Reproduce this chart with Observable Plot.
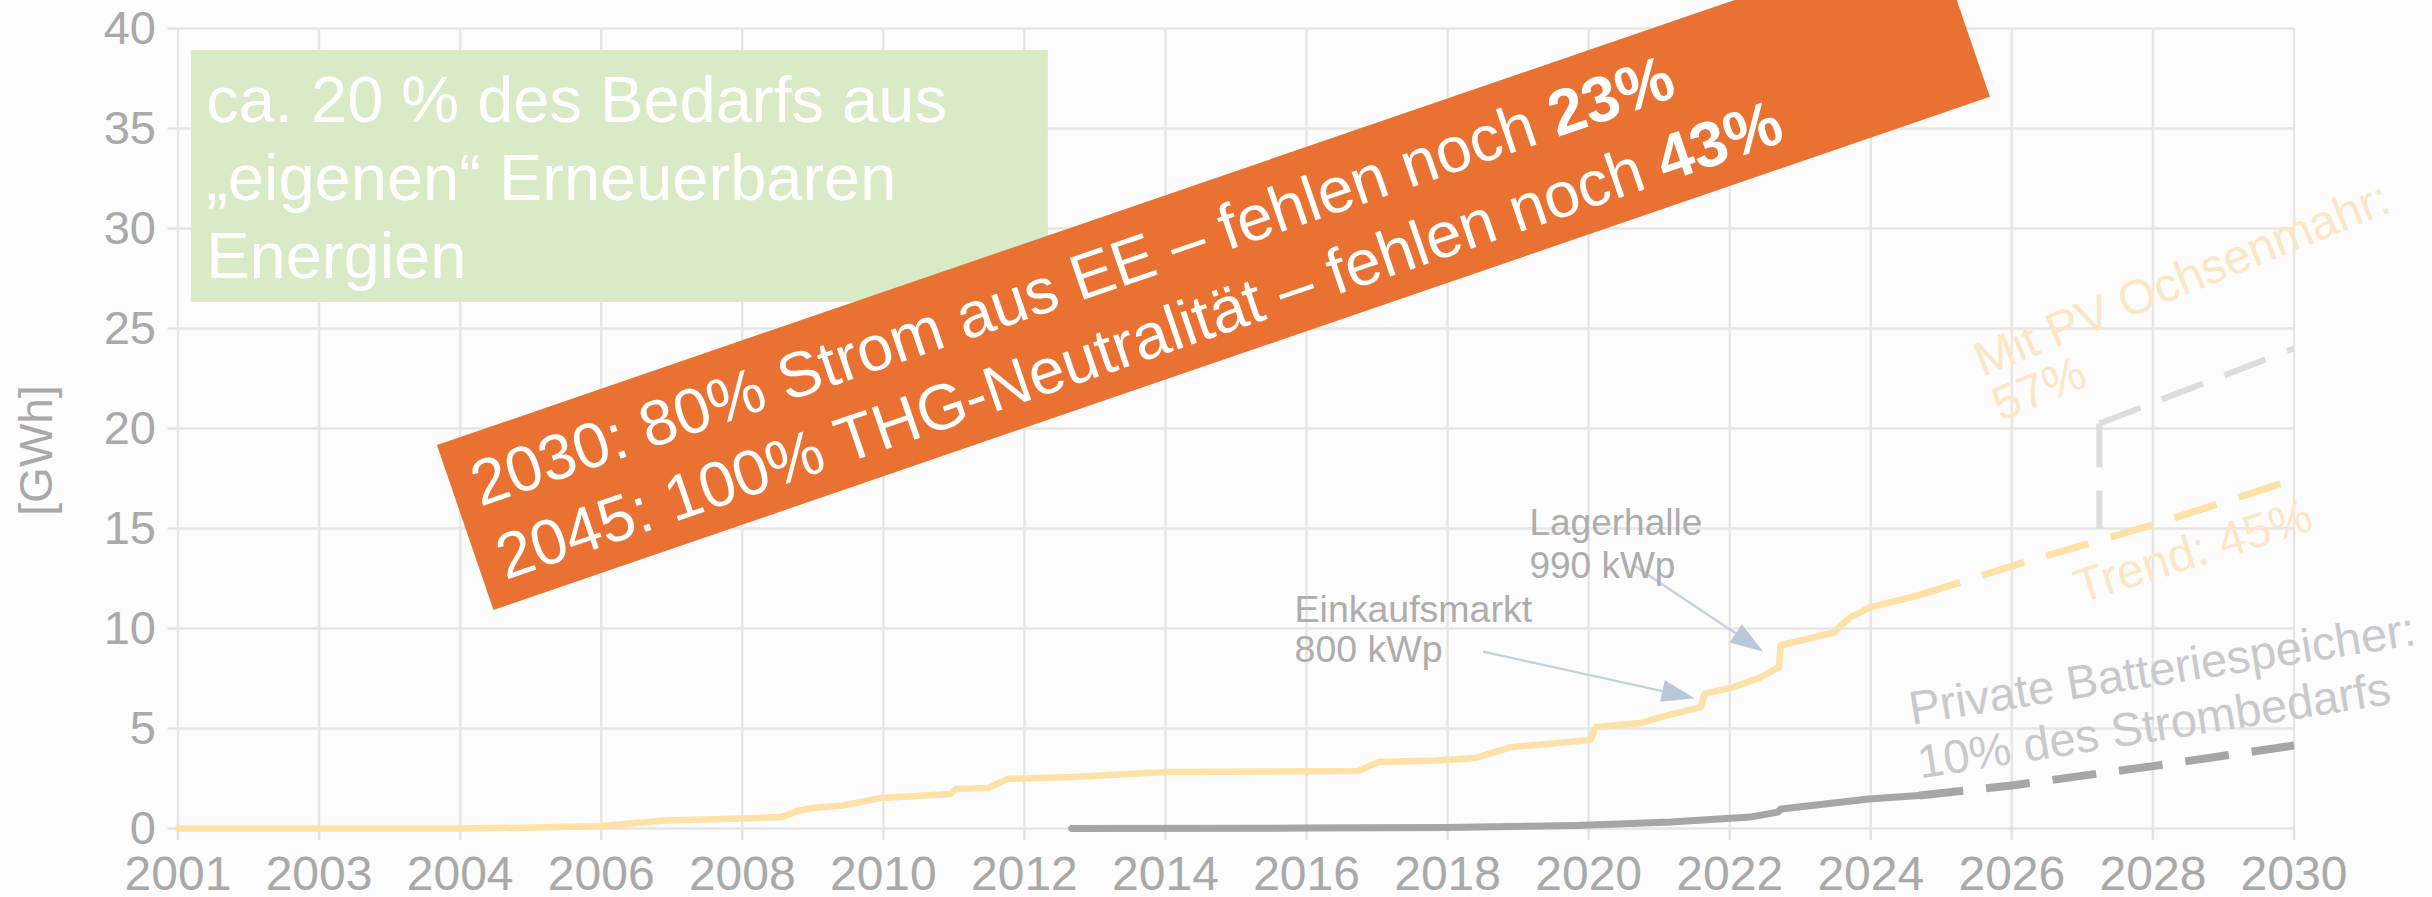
<!DOCTYPE html>
<html>
<head>
<meta charset="utf-8">
<script src="https://cdn.jsdelivr.net/npm/d3@7"></script>
<script src="https://cdn.jsdelivr.net/npm/@observablehq/plot@0.6"></script>
<style>
  html, body { margin: 0; padding: 0; background: #fcfcfc; overflow: hidden; }
  #chart { width: 2432px; height: 897px; overflow: hidden; }
  #chart svg { display: block; }
</style>
</head>
<body>
<div id="chart"></div>
<script>
// ---------- tick labels ----------
const xTickYears = [2001, 2003, 2004, 2006, 2008, 2010, 2012, 2014, 2016, 2018, 2020, 2022, 2024, 2026, 2028, 2030];
const yTicks = [0, 5, 10, 15, 20, 25, 30, 35, 40];

// ---------- series: cumulative PV generation (GWh) ----------
const pvYears = [2001, 2004, 2005.1, 2006.0, 2006.9, 2008.0, 2008.56, 2008.78, 2008.99, 2009.43, 2009.97,
  2010.95, 2011.03, 2011.49, 2011.76, 2012.68, 2014.01, 2016.73, 2017.02, 2017.85, 2018.40, 2018.90,
  2019.96, 2020.03, 2020.10, 2020.74, 2020.98, 2021.59, 2021.64, 2022.06, 2022.44, 2022.70, 2022.72,
  2023.47, 2023.71, 2024.0, 2024.67];
const pvGWh = [0, 0, 0.05, 0.12, 0.4, 0.5, 0.57, 0.87, 1.03, 1.15, 1.53,
  1.73, 1.98, 2.03, 2.48, 2.57, 2.82, 2.87, 3.32, 3.4, 3.53, 4.07,
  4.4, 4.45, 5.07, 5.27, 5.53, 6.07, 6.73, 7.07, 7.57, 8.07, 9.15,
  9.8, 10.57, 11.07, 11.65];

// trend projection (dashed)
const trendYears = [2024.67, 2026.12, 2028.04, 2030];
const trendGWh = [11.65, 13.25, 15.23, 17.45];

// projection "Mit PV Ochsenmahr" (dashed, light grey): vertical step and rise
const ochsenStepYears = [2027.24, 2027.24];
const ochsenStepGWh = [20.25, 15.0];
const ochsenRiseYears = [2027.24, 2030];
const ochsenRiseGWh = [20.25, 24.0];

// private battery storage
const batteryYears = [2012.67, 2016.0, 2018.0, 2019.84, 2021.17, 2022.29, 2022.68, 2022.73, 2023.97, 2024.69];
const batteryGWh = [0, 0.02, 0.05, 0.15, 0.32, 0.57, 0.82, 0.98, 1.48, 1.65];
const batteryProjYears = [2024.69, 2026, 2028, 2030];
const batteryProjGWh = [1.65, 2.15, 3.12, 4.15];

// ---------- annotation texts ----------
const boxText = "ca. 20 % des Bedarfs aus\n„eigenen“ Erneuerbaren\nEnergien";
const bannerLines = [
  {text: "2030: 80% Strom aus EE – fehlen noch ", bold: "23%"},
  {text: "2045: 100% THG-Neutralität – fehlen noch ", bold: "43%"}
];
const labelLager = "Lagerhalle\n990 kWp";
const labelEinkauf = "Einkaufsmarkt\n800 kWp";
const labelOchsen = "Mit PV Ochsenmahr:\n57%";
const labelTrend = "Trend: 45%";
const labelBattery = "Private Batteriespeicher:\n10% des Strombedarfs";

// ---------- layout (annotation anchors in data units) ----------
const W = 2432, H = 897;
const M = {left: 177.5, right: 138.5, top: 28, bottom: 69};
const FONT = "'Liberation Sans', Arial, Helvetica, sans-serif";

// axis position (evenly spaced ticks) from year
const pos = d3.scaleLinear(xTickYears, d3.range(xTickYears.length));
const toRows = (xs, ys) => xs.map((t, i) => ({x: pos(t), y: ys[i]}));

const pv = toRows(pvYears, pvGWh);
const trend = toRows(trendYears, trendGWh);
const ochsenStep = toRows(ochsenStepYears, ochsenStepGWh);
const ochsenRise = toRows(ochsenRiseYears, ochsenRiseGWh);
const battery = toRows(batteryYears, batteryGWh);
const batteryProj = toRows(batteryProjYears, batteryProjGWh);

const box = [{x1: pos(2001.19), x2: pos(2012.34), y1: 26.3, y2: 38.9}];
const banner = {year: 2004.48, gwh: 10.9, angle: -18.93, length: 1582, height: 174.4, padX: 21, baselines: [-102, -24.5], fontSize: 64};
const arrows = [
  {fromYear: 2020.64, fromGWh: 13.15, toYear: 2022.48, toGWh: 8.82},
  {fromYear: 2018.51, fromGWh: 8.82, toYear: 2021.51, toGWh: 6.49}
];

function bannerMark(index, scales) {
  const x0 = scales.x(pos(banner.year)), y0 = scales.y(banner.gwh);
  const g = d3.create("svg:g")
    .attr("transform", `translate(${x0},${y0}) rotate(${banner.angle})`)
    .attr("text-anchor", "start");
  g.append("rect")
    .attr("x", 0).attr("y", -banner.height)
    .attr("width", banner.length).attr("height", banner.height)
    .attr("fill", "#e97232");
  bannerLines.forEach((ln, i) => {
    const t = g.append("text")
      .attr("x", banner.padX).attr("y", banner.baselines[i])
      .attr("text-anchor", "start")
      .attr("fill", "#ffffff")
      .attr("font-size", banner.fontSize)
      .attr("font-family", FONT)
      .style("white-space", "pre");
    t.append("tspan").text(ln.text);
    t.append("tspan").attr("font-weight", "bold").text(ln.bold);
  });
  return g.node();
}

function arrowMark(index, scales) {
  const g = d3.create("svg:g");
  for (const a of arrows) {
    const x1 = scales.x(pos(a.fromYear)), y1 = scales.y(a.fromGWh);
    const x2 = scales.x(pos(a.toYear)), y2 = scales.y(a.toGWh);
    const ang = Math.atan2(y2 - y1, x2 - x1);
    const L = 33, hw = 11;
    const bx = x2 - L * Math.cos(ang), by = y2 - L * Math.sin(ang);
    g.append("line")
      .attr("x1", x1).attr("y1", y1).attr("x2", bx).attr("y2", by)
      .attr("stroke", "#c4d0e0").attr("stroke-width", 2.2);
    g.append("path")
      .attr("d", `M${x2},${y2}L${bx - hw * Math.sin(ang)},${by + hw * Math.cos(ang)}L${bx + hw * Math.sin(ang)},${by - hw * Math.cos(ang)}Z`)
      .attr("fill", "#b8c7da");
  }
  return g.node();
}

const gridStyle = {stroke: "#e6e6e6", strokeOpacity: 1, strokeWidth: 2.5};
const dash = "44,23";

const chart = Plot.plot({
  width: W, height: H,
  marginLeft: M.left, marginRight: M.right, marginTop: M.top, marginBottom: M.bottom,
  style: {background: "#fcfcfc", fontFamily: FONT, overflow: "visible"},
  x: {type: "linear", domain: [0, xTickYears.length - 1]},
  y: {type: "linear", domain: [0, 40]},
  marks: [
    Plot.gridX({ticks: d3.range(xTickYears.length), ...gridStyle}),
    Plot.gridY({ticks: yTicks, ...gridStyle}),
    Plot.axisX({ticks: d3.range(xTickYears.length), tickFormat: i => String(xTickYears[i]),
      tickSize: 12, tickPadding: 15, stroke: "#e3e3e3", strokeWidth: 2.5, fill: "#a9a9a9",
      fontSize: 48, label: null}),
    Plot.axisY({ticks: yTicks, tickFormat: d => String(d), tickSize: 10, tickPadding: 12, stroke: "#e3e3e3", strokeWidth: 2.5,
      fill: "#a9a9a9", fontSize: 47, label: null}),
    Plot.text(["[GWh]"], {frameAnchor: "left", dx: -140.5, dy: 22, rotate: -90, fontSize: 46,
      fill: "#a9a9a9", textAnchor: "middle"}),

    // green info box
    Plot.rect(box, {x1: "x1", x2: "x2", y1: "y1", y2: "y2", fill: "#d8eac6"}),
    Plot.text([boxText], {x: pos(2001.40), y: 27.55, textAnchor: "start", lineAnchor: "bottom",
      fontSize: 65, lineHeight: 1.2, fill: "#ffffff"}),

    // orange banner
    bannerMark,

    // projections
    Plot.line(ochsenStep, {x: "x", y: "y", stroke: "#dddddd", strokeWidth: 6, strokeDasharray: dash, strokeLinecap: "butt"}),
    Plot.line(ochsenRise, {x: "x", y: "y", stroke: "#dddddd", strokeWidth: 6, strokeDasharray: dash, strokeLinecap: "butt"}),
    Plot.line(trend, {x: "x", y: "y", stroke: "#fde1a6", strokeWidth: 7, strokeDasharray: dash, strokeLinecap: "butt"}),
    Plot.line(batteryProj, {x: "x", y: "y", stroke: "#a6a6a6", strokeWidth: 8, strokeDasharray: dash, strokeLinecap: "butt"}),

    // measured series
    Plot.line(pv, {x: "x", y: "y", stroke: "#fde1a6", strokeWidth: 6.5}),
    Plot.line(battery, {x: "x", y: "y", stroke: "#a6a6a6", strokeWidth: 7}),

    // annotations
    arrowMark,
    Plot.text([labelLager], {x: pos(2019.16), y: 12.55, textAnchor: "start", lineAnchor: "bottom",
      fontSize: 37, lineHeight: 1.14, fill: "#adadad"}),
    Plot.text([labelEinkauf], {x: pos(2015.83), y: 8.32, textAnchor: "start", lineAnchor: "bottom",
      fontSize: 37.5, lineHeight: 1.08, fill: "#adadad"}),
    Plot.text([labelOchsen], {x: pos(2025.84), y: 20.35, rotate: -22, textAnchor: "start", lineAnchor: "bottom",
      fontSize: 48, lineHeight: 1.0, fill: "#fde6c4"}),
    Plot.text([labelTrend], {x: pos(2026.97), y: 11.25, rotate: -17.5, textAnchor: "start", lineAnchor: "bottom",
      fontSize: 48, fill: "#fde6c4"}),
    Plot.text([labelBattery], {x: pos(2024.70), y: 2.5, rotate: -9, textAnchor: "start", lineAnchor: "bottom",
      fontSize: 47, lineHeight: 1.16, fill: "#c9c9cc"})
  ]
});

document.getElementById("chart").appendChild(chart);
</script>
</body>
</html>
